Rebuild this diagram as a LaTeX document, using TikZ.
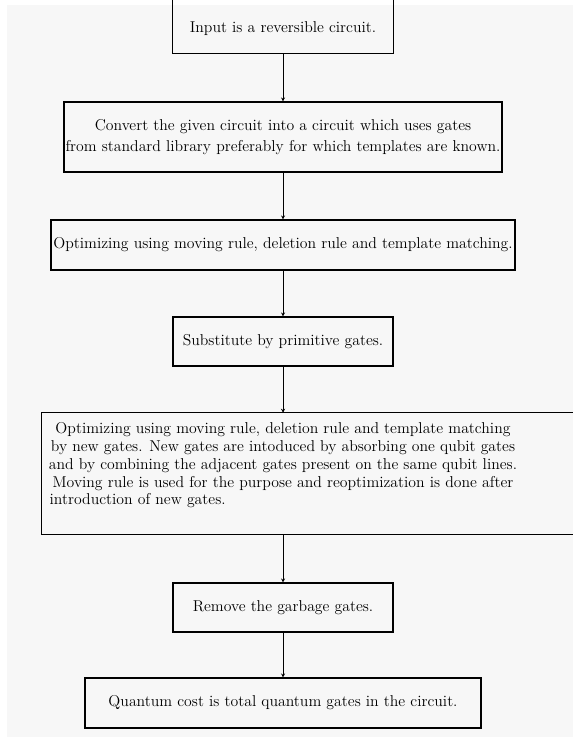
\documentclass[tikz,border=0pt]{standalone}
\usetikzlibrary{calc,arrows.meta}
\begin{document}
\begin{tikzpicture}[x=0.75pt,y=-0.75pt,
  every node/.style={font=\fontsize{11.8}{13.3}\selectfont},
  boxline/.style={line width=0.8pt},
  flowbox/.style={draw, boxline, inner sep=0pt, align=center},
  flowarrow/.style={line width=0.7pt, -{Stealth[length=3pt,width=3pt]}}]
\useasboundingbox (0,0) rectangle (573,737);
\fill[white] (0,0) rectangle (573,737);
\fill[black!3] (7,5) rectangle (573,737);
\begin{scope}
\clip (0,0) rectangle (573,737);
\node[inner sep=0pt, minimum width=165pt, minimum height=36pt] (b1) at (283,29) {Input is a reversible circuit.};
\draw[boxline] ($(b1.north west)+(0,-20)$) -- (b1.south west) -- (b1.south east) -- ($(b1.north east)+(0,-20)$);
\node[flowbox, minimum width=328.5pt, minimum height=52.5pt] (b2) at (283,137)
  {Convert the given circuit into a circuit which uses gates\\[2.5pt]from standard library preferably for which templates are known.};
\node[flowbox, minimum width=348pt, minimum height=37.5pt] (b3) at (283,245)
  {Optimizing using moving rule, deletion rule and template matching.};
\node[flowbox, minimum width=165pt, minimum height=36.75pt] (b4) at (283,341.5)
  {Substitute by primitive gates.};
\node[inner sep=0pt, minimum width=362.25pt, minimum height=90.75pt, align=center] (b5) at (283,473.5)
  {Optimizing using moving rule, deletion rule and template matching\\
   by new gates.  New gates are intoduced by absorbing one qubit gates\\
   and by combining the adjacent gates present on the same qubit lines.\\
   Moving rule is used for the purpose and reoptimization is done after\\
   \makebox[350pt][l]{introduction of new gates.\rule[-14.5pt]{0pt}{0pt}}};
\draw[boxline] (b5.south west) rectangle ($(b5.north east)+(60,0)$);
\node[flowbox, minimum width=165pt, minimum height=36.75pt] (b6) at (283,607.5)
  {Remove the garbage gates.};
\node[flowbox, minimum width=297pt, minimum height=37.5pt] (b7) at (283,703)
  {Quantum cost is total quantum gates in the circuit.};
\draw[flowarrow] (b1.south) -- (b2.north);
\draw[flowarrow] (b2.south) -- (b3.north);
\draw[flowarrow] (b3.south) -- (b4.north);
\draw[flowarrow] (b4.south) -- (b5.north);
\draw[flowarrow] (b5.south) -- (b6.north);
\draw[flowarrow] (b6.south) -- (b7.north);
\end{scope}
\end{tikzpicture}
\end{document}
